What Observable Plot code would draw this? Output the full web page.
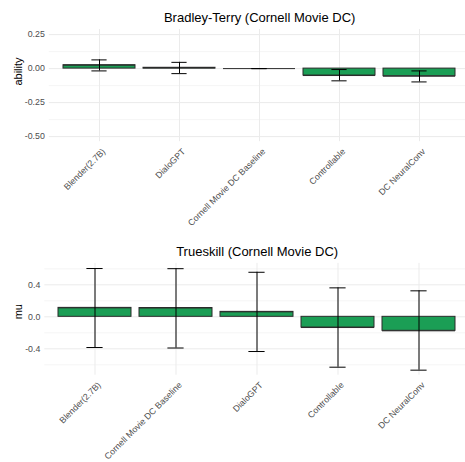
<!DOCTYPE html>
<html><head><meta charset="utf-8">
<script src="https://cdn.jsdelivr.net/npm/d3@7"></script>
<script src="https://cdn.jsdelivr.net/npm/@observablehq/plot@0.6"></script>
<style>
body{margin:0;background:#fff;font-family:"Liberation Sans",Arial,sans-serif;}
#chart{width:465px;height:462px;overflow:hidden;}
#chart svg{display:block;}
</style></head><body><div id="chart"></div>
<script>
// Bradley-Terry panel
const btTitle = "Bradley-Terry (Cornell Movie DC)";
const btYLabel = "ability";
const btModels = ["Blender(2.7B)", "DialoGPT", "Cornell Movie DC Baseline", "Controllable", "DC NeuralConv"];
const btValue = [0.025, 0.006, 0, -0.051, -0.056];
const btLower = [-0.017, -0.037, 0, -0.090, -0.098];
const btUpper = [0.064, 0.046, 0, -0.007, -0.017];
const btMajorTicks = [0.25, 0, -0.25, -0.5];
const btMinorTicks = [0.125, -0.125, -0.375];

// Trueskill panel
const tsTitle = "Trueskill (Cornell Movie DC)";
const tsYLabel = "mu";
const tsModels = ["Blender(2.7B)", "Cornell Movie DC Baseline", "DialoGPT", "Controllable", "DC NeuralConv"];
const tsValue = [0.112, 0.110, 0.062, -0.134, -0.175];
const tsLower = [-0.384, -0.390, -0.434, -0.630, -0.667];
const tsUpper = [0.604, 0.602, 0.557, 0.362, 0.325];
const tsMajorTicks = [0.4, 0, -0.4];
const tsMinorTicks = [0.6, 0.2, -0.2, -0.6];

function panel(o) {
  const rows = o.models.map((m, i) => ({model: m, value: o.values[i], lower: o.lower[i], upper: o.upper[i]}));
  const fontFamily = "'Liberation Sans', Arial, sans-serif";
  return Plot.plot({
    width: 465,
    height: o.height,
    marginTop: o.marginTop,
    marginBottom: o.marginBottom,
    marginLeft: o.marginLeft,
    marginRight: o.marginRight,
    style: {fontFamily, fontSize: "8.8px", background: "white", overflow: "visible"},
    x: {domain: o.models, paddingInner: 0.1, paddingOuter: 0.15, axis: null},
    y: {domain: o.yDomain, axis: null},
    marks: [
      Plot.ruleY(o.minor, {stroke: "#ebebeb", strokeWidth: 0.5}),
      Plot.ruleY(o.major, {stroke: "#ebebeb", strokeWidth: 1}),
      Plot.ruleX(o.models, {x: d => d, stroke: "#ebebeb", strokeWidth: 1}),
      Plot.barY(rows, {x: "model", y1: 0, y2: "value", fill: "#1b9e55", stroke: "#2b2b2b", strokeWidth: 1}),
      Plot.tickY(rows, {x: "model", y: "value", stroke: "#2b2b2b", strokeWidth: 1}),
      Plot.ruleX(rows, {x: "model", y1: "lower", y2: "upper", stroke: "black", strokeWidth: 1}),
      Plot.tickY(rows, {x: "model", y: "lower", stroke: "black", strokeWidth: 1, insetLeft: 28.4, insetRight: 28.4}),
      Plot.tickY(rows, {x: "model", y: "upper", stroke: "black", strokeWidth: 1, insetLeft: 28.4, insetRight: 28.4}),
      Plot.axisY(o.major, {tickSize: 0, tickPadding: 4.5, tickFormat: d => d.toFixed(o.digits), fill: "#4d4d4d", fontSize: 8.8, label: null}),
      Plot.text(o.models, {x: d => d, frameAnchor: "bottom", rotate: -45, textAnchor: "end", lineAnchor: "top", dx: 2, dy: 6, fill: "#4d4d4d", fontSize: 8.8}),
      Plot.text([o.title], {frameAnchor: "top", lineAnchor: "bottom", dy: o.titleDy, fontSize: 13, fill: "black"}),
      Plot.text([o.yLabel], {frameAnchor: "left", rotate: -90, lineAnchor: "bottom", dx: o.yLabelDx, fontSize: 11, fill: "black"})
    ]
  });
}

const chart = document.getElementById("chart");
chart.append(panel({
  models: btModels, values: btValue, lower: btLower, upper: btUpper,
  yDomain: [-0.5375, 0.2875], major: btMajorTicks, minor: btMinorTicks, digits: 2,
  title: btTitle, yLabel: btYLabel,
  height: 232, marginTop: 29, marginBottom: 90.8, marginLeft: 48.8, marginRight: -4.5,
  titleDy: -7.5, yLabelDx: -27.3
}));
chart.append(panel({
  models: tsModels, values: tsValue, lower: tsLower, upper: tsUpper,
  yDomain: [-0.73, 0.668], major: tsMajorTicks, minor: tsMinorTicks, digits: 1,
  title: tsTitle, yLabel: tsYLabel,
  height: 230, marginTop: 30.9, marginBottom: 87.3, marginLeft: 44.3, marginRight: -4,
  titleDy: -7.9, yLabelDx: -22.8
}));
</script>
</body></html>
